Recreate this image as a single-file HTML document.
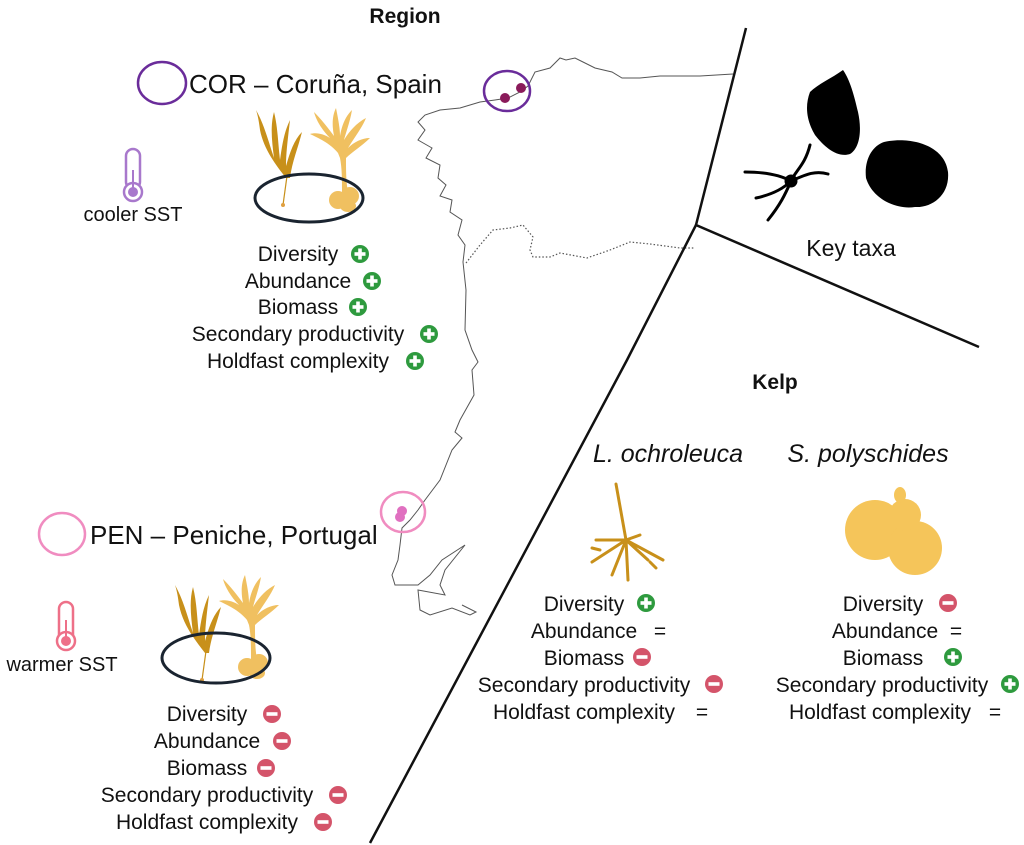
<!DOCTYPE html>
<html><head><meta charset="utf-8"><style>
html,body{margin:0;padding:0;background:#fff;}
svg{display:block;}
text{font-family:"Liberation Sans",Arial,sans-serif;fill:#111;}
</style></head><body>
<svg width="1024" height="845" viewBox="0 0 1024 845" xmlns="http://www.w3.org/2000/svg">
<defs>
<g id="plus"><circle r="9" fill="#2e9a3e"/><rect x="-5.5" y="-1.8" width="11" height="3.6" fill="#fff"/><rect x="-1.8" y="-5.5" width="3.6" height="11" fill="#fff"/></g>
<g id="minus"><circle r="9" fill="#d4546a"/><rect x="-5.5" y="-1.8" width="11" height="3.6" fill="#fff"/></g>
<g id="laminaria">
<path d="M30 68 C20 55 8 40 4 20 C3 12 2 6 0 0 C8 14 12 30 18 48 C16 32 14 16 18 2 C22 18 22 34 24 50 C26 36 28 22 34 10 C32 28 30 42 30 56 C34 42 38 30 46 22 C42 38 36 52 34 68 Z" fill="#c8901a"/>
<line x1="31" y1="66" x2="27" y2="95" stroke="#c8901a" stroke-width="1.2"/>
<circle cx="27" cy="95" r="2" fill="#e0a040"/>
</g>
<g id="sacc">
<path d="M30 45 C22 35 10 30 2 26 C8 24 16 26 22 30 C14 22 8 12 6 4 C14 12 20 20 26 28 C24 18 24 8 28 0 C30 10 32 20 32 28 C34 16 38 8 44 2 C42 14 38 24 36 32 C42 22 50 14 58 10 C54 20 46 30 40 40 C46 34 54 30 62 30 C54 38 44 44 38 50 C38 62 38 74 40 84 L34 84 C34 72 34 60 32 50 Z" fill="#f0c060"/>
<ellipse cx="30" cy="92" rx="9" ry="9" fill="#f0c060"/><ellipse cx="42" cy="88" rx="9" ry="9" fill="#f0c060"/><ellipse cx="40" cy="98" rx="8" ry="6" fill="#f0c060"/>
</g>
</defs>

<!-- coastline -->
<g fill="none" stroke="#555" stroke-width="1">
<path d="M733 74 L700 76 L660 76 L640 78 L622 78 L612 72 L595 68 L583 62 L575 58 L566 60 L560 58 L550 68 L535 72 L528 86 L520 92 L508 98 L495 100 L480 102 L460 108 L440 110 L425 115 L418 122 L425 130 L418 140 L432 148 L426 158 L440 165 L438 178 L446 185 L440 196 L452 200 L450 212 L462 220 L458 235 L465 245 L463 262 L466 290 L465 330 L472 350 L478 362 L472 370 L474 395 L460 420 L455 432 L462 438 L452 450 L440 480 L425 500 L418 510 L410 520 L402 528 L400 545 L398 560 L392 575 L395 585 L418 585 L430 575 L442 560 L465 545 L445 570 L440 585 L445 595 L418 590 L420 610 L430 615 L452 608 L470 615 L476 612 L462 605"/>
</g>
<path d="M466 263 L480 245 L493 230 L510 228 L523 225 L533 237 L530 250 L533 257 L550 257 L560 253 L587 258 L610 250 L630 242 L650 244 L680 248 L695 248" fill="none" stroke="#555" stroke-width="1.2" stroke-dasharray="1.5 2"/>

<!-- divider lines -->
<g stroke="#111" stroke-width="2.5" fill="none">
<path d="M746 28 L696 225 L979 347"/>
<path d="M696 225 L627 360 L370 843"/>
</g>

<!-- titles -->
<text x="405" y="23" font-size="21" font-weight="bold" text-anchor="middle">Region</text>
<text x="775" y="389" font-size="21" font-weight="bold" text-anchor="middle">Kelp</text>
<text x="851" y="256" font-size="23" text-anchor="middle">Key taxa</text>

<!-- COR -->
<ellipse cx="162" cy="83" rx="24" ry="21" fill="none" stroke="#6a2c9a" stroke-width="2.5"/>
<text x="189" y="93" font-size="26">COR – Coruña, Spain</text>
<ellipse cx="507" cy="91" rx="23" ry="20" fill="none" stroke="#6a2c9a" stroke-width="2.5"/>
<circle cx="505" cy="98" r="5" fill="#8a1a5a"/><circle cx="521" cy="88" r="5" fill="#8a1a5a"/>
<rect x="126" y="149" width="14" height="40" rx="7" fill="none" stroke="#a878cc" stroke-width="2.5"/>
<circle cx="133" cy="192" r="9" fill="#fff" stroke="#a878cc" stroke-width="2.5"/>
<circle cx="133" cy="192" r="5" fill="#a878cc"/><line x1="133" y1="170" x2="133" y2="188" stroke="#a878cc" stroke-width="2"/>
<text x="133" y="221" font-size="20" text-anchor="middle">cooler SST</text>
<use href="#laminaria" x="256" y="110"/>
<use href="#sacc" x="308" y="108"/>
<ellipse cx="309" cy="198" rx="54" ry="24" fill="none" stroke="#1a2430" stroke-width="3"/>
<g font-size="21" text-anchor="middle">
<text x="298" y="261">Diversity</text><use href="#plus" x="360" y="254"/>
<text x="298" y="288">Abundance</text><use href="#plus" x="372" y="281"/>
<text x="298" y="314">Biomass</text><use href="#plus" x="358" y="307"/>
<text x="298" y="341">Secondary productivity</text><use href="#plus" x="429" y="334"/>
<text x="298" y="368">Holdfast complexity</text><use href="#plus" x="415" y="361"/>
</g>

<!-- PEN -->
<ellipse cx="62" cy="534" rx="23" ry="21" fill="none" stroke="#f08cc0" stroke-width="2.5"/>
<text x="90" y="544" font-size="26">PEN – Peniche, Portugal</text>
<ellipse cx="403" cy="512" rx="22" ry="20" fill="none" stroke="#f08cc0" stroke-width="2.5"/>
<circle cx="402" cy="511" r="5" fill="#e070c0"/><circle cx="400" cy="517" r="5" fill="#e070c0"/>
<rect x="59" y="602" width="14" height="40" rx="7" fill="none" stroke="#ee7088" stroke-width="2.5"/>
<circle cx="66" cy="641" r="9" fill="#fff" stroke="#ee7088" stroke-width="2.5"/>
<circle cx="66" cy="641" r="5" fill="#ee7088"/><line x1="66" y1="620" x2="66" y2="637" stroke="#ee7088" stroke-width="2"/>
<text x="62" y="671" font-size="20" text-anchor="middle">warmer SST</text>
<use href="#laminaria" x="175" y="585"/>
<use href="#sacc" x="217" y="575"/>
<ellipse cx="216" cy="658" rx="54" ry="25" fill="none" stroke="#1a2430" stroke-width="3"/>
<g font-size="21" text-anchor="middle">
<text x="207" y="721">Diversity</text><use href="#minus" x="272" y="714"/>
<text x="207" y="748">Abundance</text><use href="#minus" x="282" y="741"/>
<text x="207" y="775">Biomass</text><use href="#minus" x="266" y="768"/>
<text x="207" y="802">Secondary productivity</text><use href="#minus" x="338" y="795"/>
<text x="207" y="829">Holdfast complexity</text><use href="#minus" x="323" y="822"/>
</g>

<!-- key taxa -->
<path d="M843 70 C850 80 854 95 858 112 C862 130 860 148 850 154 C838 158 825 148 815 135 C806 120 805 105 810 92 C818 84 832 78 843 70 Z" fill="#000"/>
<path d="M884 142 C910 136 945 145 948 172 C950 195 932 208 915 207 C895 210 872 198 866 178 C864 160 872 146 884 142 Z" fill="#000"/>
<g stroke="#000" stroke-width="3" fill="none" stroke-linecap="round">
<circle cx="791" cy="181" r="5" fill="#000"/>
<path d="M791 181 C796 170 805 165 810 145"/>
<path d="M791 181 C805 175 815 170 828 174"/>
<path d="M791 181 C780 175 765 172 745 172"/>
<path d="M791 181 C782 190 770 195 756 198"/>
<path d="M791 181 C785 195 780 205 768 220"/>
</g>

<!-- kelp section -->
<text x="668" y="462" font-size="25" font-style="italic" text-anchor="middle">L. ochroleuca</text>
<text x="868" y="462" font-size="25" font-style="italic" text-anchor="middle">S. polyschides</text>
<g stroke="#c8901a" stroke-width="3" fill="none" stroke-linecap="round">
<path d="M616 484 L626 540"/>
<path d="M626 540 L596 540 M626 540 L592 562 M626 540 L612 575 M626 540 L628 580 M626 540 L648 560 M626 540 L663 560 M626 540 L640 535 M600 550 L592 548 M650 562 L656 568"/>
</g>
<g fill="#f5c55a">
<ellipse cx="875" cy="530" rx="30" ry="30"/>
<ellipse cx="915" cy="548" rx="27" ry="27"/>
<ellipse cx="905" cy="515" rx="16" ry="16"/>
<ellipse cx="900" cy="495" rx="6" ry="8"/>
</g>
<g font-size="21" text-anchor="middle">
<text x="584" y="611">Diversity</text><use href="#plus" x="646" y="603"/>
<text x="584" y="638">Abundance</text><text x="660" y="638">=</text>
<text x="584" y="665">Biomass</text><use href="#minus" x="642" y="657"/>
<text x="584" y="692">Secondary productivity</text><use href="#minus" x="714" y="684"/>
<text x="584" y="719">Holdfast complexity</text><text x="702" y="719">=</text>
<text x="883" y="611">Diversity</text><use href="#minus" x="948" y="603"/>
<text x="885" y="638">Abundance</text><text x="956" y="638">=</text>
<text x="883" y="665">Biomass</text><use href="#plus" x="953" y="657"/>
<text x="882" y="692">Secondary productivity</text><use href="#plus" x="1010" y="684"/>
<text x="880" y="719">Holdfast complexity</text><text x="995" y="719">=</text>
</g>
</svg>
</body></html>
